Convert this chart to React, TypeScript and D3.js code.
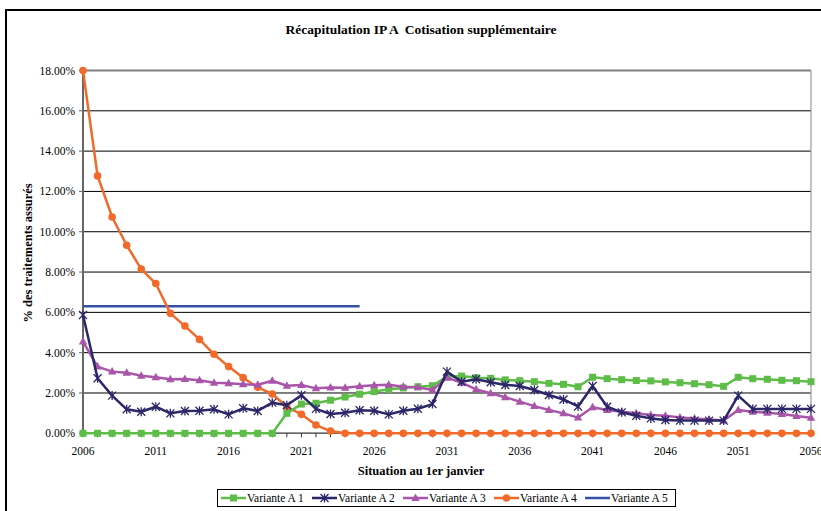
import React from "react";
import * as d3 from "d3";

const years: number[] = d3.range(2006, 2057);

const varianteA1: number[] = [
  0, 0, 0, 0, 0, 0, 0, 0, 0, 0, 0, 0, 0, 0,
  0.99, 1.45, 1.49, 1.64, 1.8, 1.94, 2.07, 2.18, 2.25, 2.31, 2.36,
  2.81, 2.84, 2.76, 2.73, 2.65, 2.61, 2.56, 2.48, 2.43, 2.31,
  2.78, 2.71, 2.66, 2.62, 2.6, 2.55, 2.51, 2.46, 2.41, 2.33,
  2.78, 2.71, 2.68, 2.63, 2.61, 2.56,
];
const varianteA2: number[] = [
  5.87, 2.73, 1.87, 1.19, 1.07, 1.32, 0.99, 1.11, 1.12, 1.19, 0.94, 1.24, 1.11, 1.52,
  1.39, 1.89, 1.21, 0.96, 1.02, 1.14, 1.12, 0.94, 1.12, 1.22, 1.45,
  3.06, 2.56, 2.68, 2.53, 2.4, 2.35, 2.15, 1.9, 1.68, 1.33,
  2.35, 1.32, 1.04, 0.87, 0.74, 0.66, 0.63, 0.63, 0.63, 0.63,
  1.87, 1.21, 1.21, 1.21, 1.21, 1.21,
];
const varianteA3: number[] = [
  4.55, 3.31, 3.06, 3.01, 2.86, 2.78, 2.68, 2.69, 2.63, 2.51, 2.48, 2.43, 2.41, 2.61,
  2.36, 2.4, 2.23, 2.27, 2.26, 2.33, 2.38, 2.41, 2.31, 2.28, 2.15,
  2.76, 2.51, 2.18, 1.99, 1.79, 1.57, 1.35, 1.16, 0.99, 0.78,
  1.29, 1.16, 1.07, 0.99, 0.91, 0.87, 0.79, 0.74, 0.69, 0.63,
  1.16, 1.07, 1.02, 0.96, 0.86, 0.77,
];
const varianteA4: number[] = [
  18.0, 12.77, 10.73, 9.33, 8.15, 7.43, 5.95, 5.32, 4.66, 3.92, 3.31, 2.76, 2.28, 1.95,
  1.32, 0.94, 0.41, 0.11, 0, 0, 0, 0, 0, 0, 0,
  0, 0, 0, 0, 0, 0, 0, 0, 0, 0,
  0, 0, 0, 0, 0, 0, 0, 0, 0, 0,
  0, 0, 0, 0, 0, 0,
];
const varianteA5Years: number[] = [2006, 2025];
const varianteA5: number[] = [6.3, 6.3];

const yTicks: number[] = [0, 2, 4, 6, 8, 10, 12, 14, 16, 18];
const xTickLabels: number[] = [2006, 2011, 2016, 2021, 2026, 2031, 2036, 2041, 2046, 2051, 2056];
const legendLabels: string[] = ["Variante A 1", "Variante A 2", "Variante A 3", "Variante A 4", "Variante A 5"];

const title = "Récapitulation IP A  Cotisation supplémentaire";
const yTitle = "% des traitements assurés";
const xTitle = "Situation au 1er janvier";

const C1 = "#5dbd48";
const C2 = "#2b2768";
const C3 = "#a855aa";
const C4 = "#f26a2a";
const C5 = "#3551a6";

const FONT = "Liberation Serif, Times New Roman, serif";
const TS: React.CSSProperties = { fontFamily: FONT, whiteSpace: "pre" };

function Marker({ kind, x, y, color }: { kind: string; x: number; y: number; color: string }) {
  if (kind === "square") {
    return <rect x={x - 3.5} y={y - 3.5} width={7} height={7} fill={color} />;
  }
  if (kind === "circle") {
    return <circle cx={x} cy={y} r={3.8} fill={color} />;
  }
  if (kind === "triangle") {
    return <path d={`M${x},${y - 4.5}L${x + 4.2},${y + 3}L${x - 4.2},${y + 3}Z`} fill={color} />;
  }
  if (kind === "star") {
    const s = 4;
    return (
      <path
        d={`M${x - s},${y - s}L${x + s},${y + s}M${x - s},${y + s}L${x + s},${y - s}M${x},${y - s - 0.5}L${x},${y + s + 0.5}`}
        stroke={color}
        strokeWidth={1.3}
        fill="none"
      />
    );
  }
  return null;
}

export default function App() {
  const W = 821;
  const H = 511;
  const x0 = 83;
  const x1 = 811;
  const yTop = 70.5;
  const yBot = 433.3;
  const x = d3.scaleLinear().domain([2006, 2056]).range([x0, x1]);
  const y = d3.scaleLinear().domain([0, 18]).range([yBot, yTop]);

  const line = d3
    .line<[number, number]>()
    .x((d) => x(d[0]))
    .y((d) => y(d[1]));

  const series = [
    { vals: varianteA1, color: C1, kind: "square" },
    { vals: varianteA2, color: C2, kind: "star" },
    { vals: varianteA3, color: C3, kind: "triangle" },
    { vals: varianteA4, color: C4, kind: "circle" },
  ];
  const drawOrder = [3, 0, 2, 1];

  const legendX = [221, 312, 403, 494, 585];
  const legendKinds = ["square", "star", "triangle", "circle", "none"];
  const legendColors = [C1, C2, C3, C4, C5];

  return (
    <svg
      width={W}
      height={H}
      style={{ position: "absolute", left: 0, top: 0, background: "#fff", fontFamily: FONT }}
    >
      <rect x={0} y={0} width={W} height={H} fill="#fff" />
      {/* outer frame */}
      <path d={`M6,${H + 2}L6,10L${W + 2},10`} stroke="#000" strokeWidth={2} fill="none" />

      <text x={421} y={34} textAnchor="middle" fontWeight="bold" fontSize={13.5} fill="#000" style={TS}>
        {title}
      </text>

      {/* gridlines */}
      {yTicks.map((t) => (
        <line
          key={t}
          x1={x0}
          x2={x1}
          y1={y(t)}
          y2={y(t)}
          stroke={t === 18 ? "#808080" : "#000"}
          strokeWidth={t === 18 ? 2 : 1}
        />
      ))}
      {/* right border */}
      <line x1={x1} x2={x1} y1={yTop} y2={yBot} stroke="#999" strokeWidth={1.2} />
      {/* y axis */}
      <line x1={x0} x2={x0} y1={yTop} y2={yBot} stroke="#666" strokeWidth={2} />
      <line x1={x0} x2={x1} y1={yBot} y2={yBot} stroke="#666" strokeWidth={1.5} />
      {yTicks.map((t) => (
        <g key={"yt" + t}>
          <line x1={x0 - 4} x2={x0} y1={y(t)} y2={y(t)} stroke="#666" strokeWidth={1} />
          <text x={x0 - 8} y={y(t) + 4} textAnchor="end" fontSize={11.5} fill="#000" style={TS}>
            {t.toFixed(2) + "%"}
          </text>
        </g>
      ))}
      {years.map((yr) => (
        <line key={"xt" + yr} x1={x(yr)} x2={x(yr)} y1={yBot} y2={yBot + 4} stroke="#333" strokeWidth={1} />
      ))}
      {xTickLabels.map((yr) => (
        <text key={"xl" + yr} x={x(yr)} y={455} textAnchor="middle" fontSize={11.5} fill="#000" style={TS}>
          {yr}
        </text>
      ))}

      <text
        transform={`translate(32,${(yTop + yBot) / 2 + 1}) rotate(-90)`}
        textAnchor="middle"
        fontWeight="bold"
        fontSize={12.5}
        fill="#000"
        style={TS}
      >
        {yTitle}
      </text>
      <text x={421} y={475} textAnchor="middle" fontWeight="bold" fontSize={12.5} fill="#000" style={TS}>
        {xTitle}
      </text>

      {/* Variante A 5 */}
      <path
        d={line(varianteA5Years.map((yr, i) => [yr, varianteA5[i]] as [number, number])) || ""}
        stroke={C5}
        strokeWidth={2.5}
        fill="none"
      />

      {drawOrder.map((si) => {
        const s = series[si];
        const pts = years.map((yr, i) => [yr, s.vals[i]] as [number, number]);
        return (
          <g key={"s" + si}>
            <path d={line(pts) || ""} stroke={s.color} strokeWidth={2.5} fill="none" strokeLinejoin="round" />
            {pts.map((p, i) => (
              <Marker key={i} kind={s.kind} x={x(p[0])} y={y(p[1])} color={s.color} />
            ))}
          </g>
        );
      })}

      {/* legend */}
      <rect x={217.5} y={489.5} width={458} height={17} fill="#fff" stroke="#000" strokeWidth={1} />
      {legendLabels.map((lab, i) => {
        const lx = legendX[i];
        const ly = 498;
        return (
          <g key={lab}>
            <line x1={lx} x2={lx + 25} y1={ly} y2={ly} stroke={legendColors[i]} strokeWidth={2.5} />
            <Marker kind={legendKinds[i]} x={lx + 12.5} y={ly} color={legendColors[i]} />
            <text x={lx + 26} y={ly + 4} fontSize={11.5} fill="#000" style={TS}>
              {lab}
            </text>
          </g>
        );
      })}
    </svg>
  );
}
